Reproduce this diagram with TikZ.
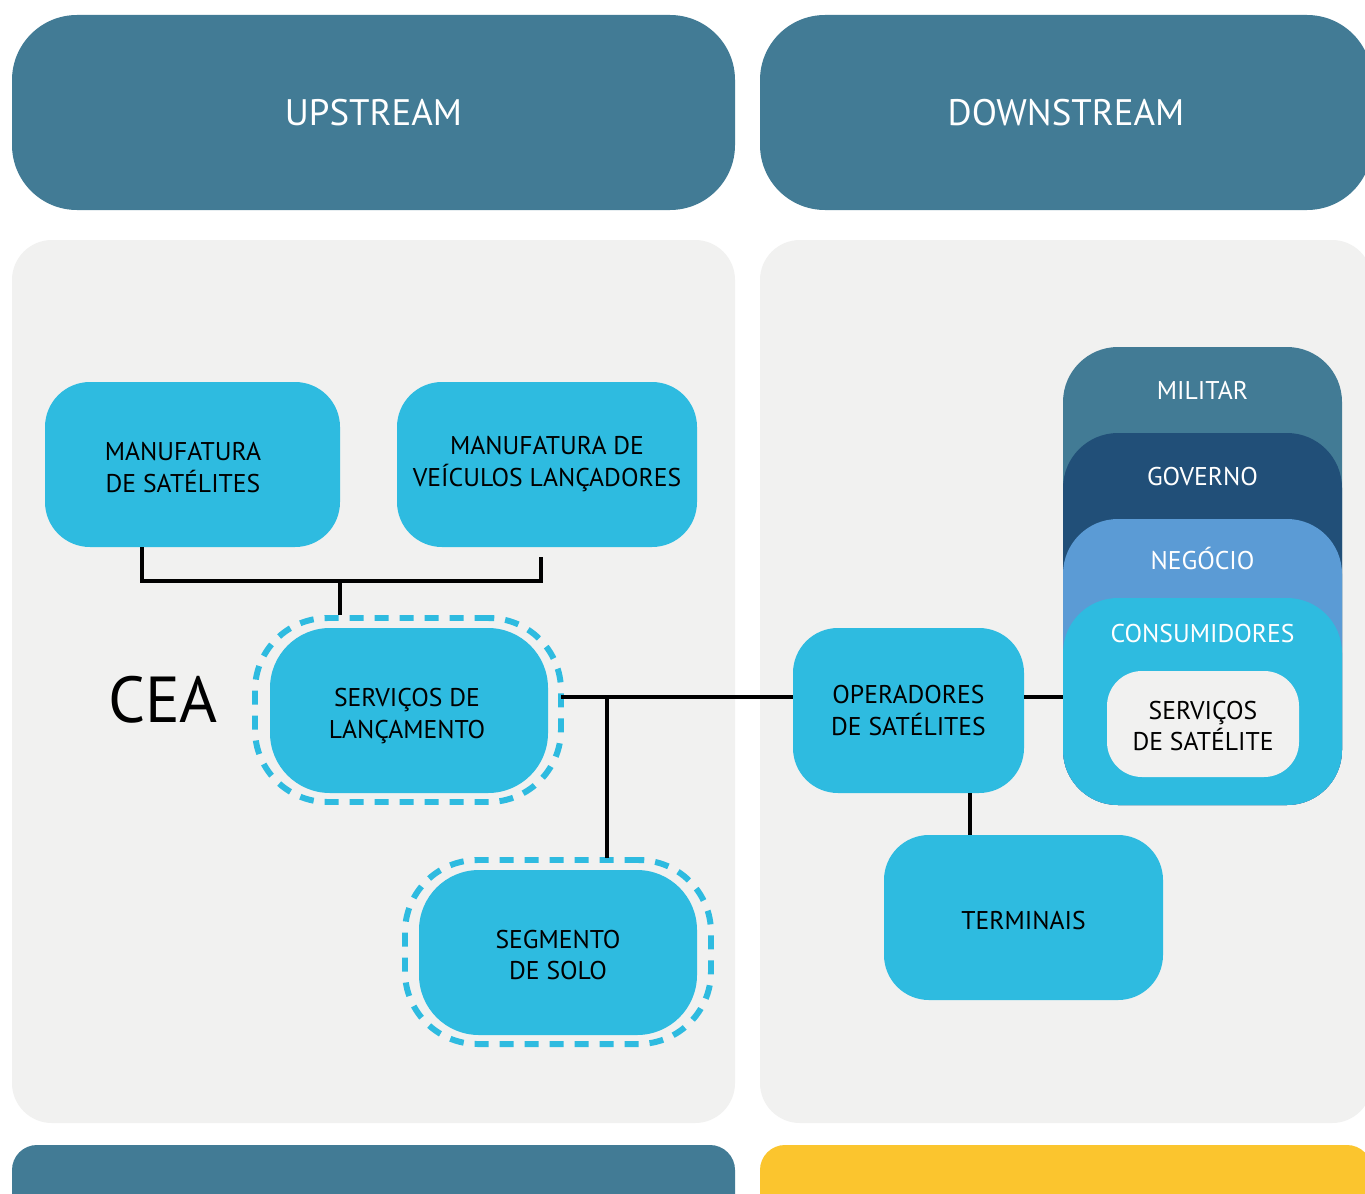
\documentclass[tikz,border=0pt]{standalone}
\usepackage{fontspec}
\setmainfont{PT Sans}
\usetikzlibrary{calc}
\definecolor{steel}{HTML}{427B95}
\definecolor{navy}{HTML}{214F78}
\definecolor{sky}{HTML}{5B9BD5}
\definecolor{cyanbox}{HTML}{2EBBE0}
\definecolor{panel}{HTML}{F1F1F0}
\definecolor{amber}{HTML}{FBC52E}
\tikzset{
  banner/.style={rectangle, fill=steel, rounded corners=1.3cm, text=white, font=\fontsize{21}{24}\selectfont},
  panelbox/.style={rectangle, fill=panel, rounded corners=0.8cm},
  box/.style={rectangle, fill=cyanbox, rounded corners=0.9cm, align=center, font=\fontsize{14.6}{18.2}\selectfont},
  ring/.style={draw=cyanbox, line width=3.4pt, dash pattern=on 0.28cm off 0.22cm, rounded corners=1.45cm},
  layer/.style={rounded corners=1.1cm},
  layertext/.style={text=white, font=\fontsize{14.6}{18}\selectfont},
  conn/.style={line width=2.6pt, black},
}
\begin{document}
\begin{tikzpicture}[x=0.02cm, y=-0.02cm]
\useasboundingbox (0,0) rectangle (1365,1193);
\clip (0,0) rectangle (1365,1193);
\fill[white] (0,0) rectangle (1365,1193);

% column headers
\node[banner, minimum width=723*0.02cm, minimum height=195*0.02cm] (up) at (373.5,112.5) {UPSTREAM};
\node[banner, minimum width=612*0.02cm, minimum height=195*0.02cm] (down) at (1066,112.5) {DOWNSTREAM};

% column panels
\node[panelbox, minimum width=723*0.02cm, minimum height=883*0.02cm] (lp) at (373.5,681.5) {};
\node[panelbox, minimum width=612*0.02cm, minimum height=883*0.02cm] (rp) at (1066,681.5) {};

% footer bars
\node[rectangle, fill=steel, rounded corners=0.5cm, minimum width=723*0.02cm, minimum height=90*0.02cm] (lf) at (373.5,1190) {};
\node[rectangle, fill=amber, rounded corners=0.5cm, minimum width=612*0.02cm, minimum height=90*0.02cm] (rf) at (1066,1190) {};

% upstream boxes
\node[box, minimum width=295*0.02cm, minimum height=165*0.02cm] (msat) at (192.5,464.5) {};
\node[align=center, font=\fontsize{14.6}{18.2}\selectfont] (msatt) at (183,468) {MANUFATURA\\DE SATÉLITES};
\node[box, minimum width=300*0.02cm, minimum height=165*0.02cm] (mveic) at (547,464.5) {MANUFATURA DE\\VEÍCULOS LANÇADORES};

\node[ring, minimum width=306*0.02cm, minimum height=184*0.02cm] (lancring) at (408,710) {};
\node[box, rounded corners=1.2cm, minimum width=278*0.02cm, minimum height=165*0.02cm] (lanc) at (409,710.5) {};
\node[align=center, font=\fontsize{14.6}{18.2}\selectfont] (lanct) at (407,716) {SERVIÇOS DE\\LANÇAMENTO};

\node[ring, minimum width=306*0.02cm, minimum height=184*0.02cm] (soloring) at (558,952) {};
\node[box, rounded corners=1.2cm, minimum width=278*0.02cm, minimum height=165*0.02cm] (solo) at (558,952.5) {};
\node[align=center, font=\fontsize{14.6}{18.2}\selectfont] (solot) at (558,955) {SEGMENTO\\DE SOLO};

\node[font=\fontsize{37}{40}\selectfont] (cea) at (163,700) {CEA};

% downstream boxes
\node[box, minimum width=231*0.02cm, minimum height=165*0.02cm] (oper) at (908.5,710.5) {OPERADORES\\DE SATÉLITES};
\node[box, minimum width=279*0.02cm, minimum height=165*0.02cm] (term) at (1023.5,917.5) {};
\node[font=\fontsize{14.6}{18.2}\selectfont] (termt) at (1023.5,921) {TERMINAIS};

% layered user segments
\fill[steel, layer] (1063,347) rectangle (1342,805);
\fill[navy, layer] (1063,433) rectangle (1342,805);
\fill[sky, layer] (1063,519) rectangle (1342,805);
\fill[cyanbox, layer] (1063,598) rectangle (1342,805);
\coordinate (stackw) at (1063,697);
\node[layertext] (mil) at (1202.5,390) {MILITAR};
\node[layertext] (gov) at (1202.5,477) {GOVERNO};
\node[layertext] (neg) at (1202.5,558) {NEGÓCIO};
\node[layertext] (cons) at (1202.5,634) {CONSUMIDORES};
\node[box, fill=panel, rounded corners=0.7cm, minimum width=192*0.02cm, minimum height=106*0.02cm] (satserv) at (1203,724) {};
\node[align=center, font=\fontsize{14.6}{18.2}\selectfont] (satservt) at (1203,726) {SERVIÇOS\\DE SATÉLITE};

% connectors
\coordinate (j1) at (340,581);
\coordinate (ml) at (142,547);
\coordinate (mr) at (541,557);
\draw[conn] (ml) |- (j1) -| (mr);
\draw[conn] (j1) -- (340,615);
\coordinate (lr) at (561,697);
\coordinate (j2) at (607,697);
\draw[conn] (lr) -- (oper.west |- lr);
\draw[conn] (j2) -- (607,858);
\draw[conn] (oper.east |- lr) -- (stackw);
\draw[conn] (oper.south -| 970,0) -- (term.north -| 970,0);
\end{tikzpicture}
\end{document}
